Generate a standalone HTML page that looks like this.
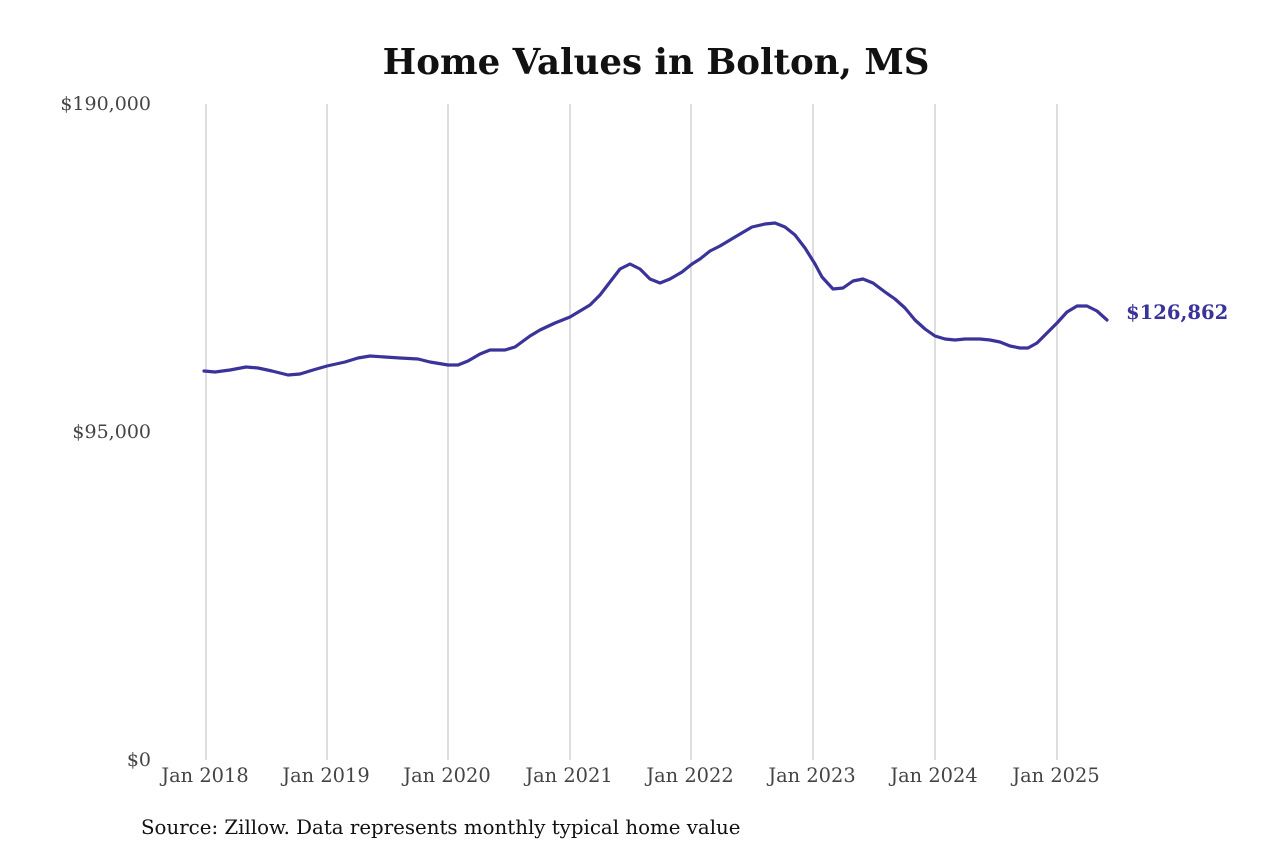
<!DOCTYPE html>
<html><head><style>
html,body{margin:0;padding:0;background:#fff;}
svg text{font-family:"DejaVu Serif","Liberation Serif",serif;}
</style></head><body>
<svg width="1280" height="853" viewBox="0 0 1280 853" xmlns="http://www.w3.org/2000/svg">
<rect width="1280" height="853" fill="#fff"/>
<text x="656" y="74" text-anchor="middle" font-size="35.6" font-weight="bold" fill="#111">Home Values in Bolton, MS</text>
<g stroke="#bdbdbd" stroke-width="1">
<line x1="206" y1="104" x2="206" y2="760"/>
<line x1="327" y1="104" x2="327" y2="760"/>
<line x1="448" y1="104" x2="448" y2="760"/>
<line x1="570" y1="104" x2="570" y2="760"/>
<line x1="691" y1="104" x2="691" y2="760"/>
<line x1="813" y1="104" x2="813" y2="760"/>
<line x1="935" y1="104" x2="935" y2="760"/>
<line x1="1057" y1="104" x2="1057" y2="760"/>
</g>
<g font-size="19" fill="#444" text-anchor="end">
<text x="151" y="110">$190,000</text>
<text x="151" y="438">$95,000</text>
<text x="151" y="766">$0</text>
</g>
<g font-size="19.4" fill="#444" text-anchor="middle">
<text x="205" y="782">Jan 2018</text>
<text x="326" y="782">Jan 2019</text>
<text x="447" y="782">Jan 2020</text>
<text x="569" y="782">Jan 2021</text>
<text x="690" y="782">Jan 2022</text>
<text x="812" y="782">Jan 2023</text>
<text x="934" y="782">Jan 2024</text>
<text x="1056" y="782">Jan 2025</text>
</g>
<polyline fill="none" stroke="#3a3399" stroke-width="3.2" stroke-linejoin="round" stroke-linecap="round"
points="204,371 215,372 230,370 246,367 258,368 272,371 288,375 300,374 313,370 327,366 345,362 358,358 370,356 385,357 400,358 418,359 430,362 448,365 458,365 468,361 480,354 490,350 505,350 515,347 530,336 540,330 555,323 570,317 580,311 590,305 600,295 610,282 620,269 630,264 640,269 650,279 660,283 670,279 682,272 692,264 700,259 710,251 720,246 735,237 752,227 765,224 775,223 785,227 795,235 805,248 815,264 822,277 833,289 843,288 853,281 863,279 873,283 885,292 895,299 905,308 915,320 925,329 935,336 945,339 955,340 965,339 980,339 990,340 1000,342 1010,346 1020,348 1028,348 1037,343 1045,335 1057,323 1067,312 1077,306 1087,306 1097,311 1107,320"/>
<text x="1126" y="319" font-size="19.6" font-weight="bold" fill="#3a3399">$126,862</text>
<text x="141" y="834" font-size="19.8" fill="#111">Source: Zillow. Data represents monthly typical home value</text>
</svg>
</body></html>
